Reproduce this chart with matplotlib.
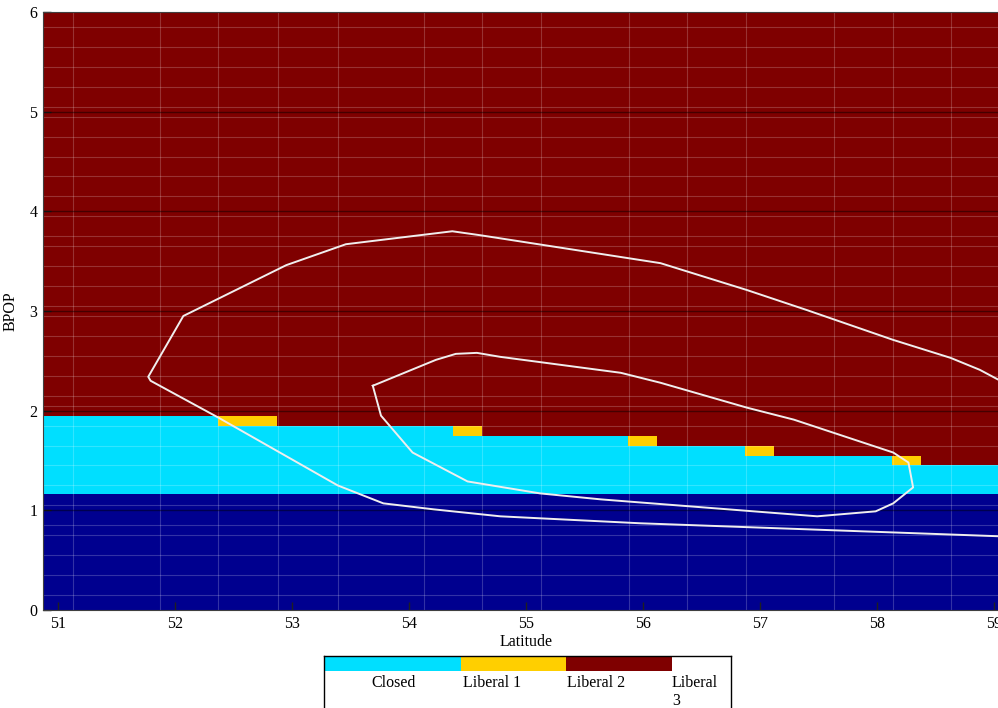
#!/usr/bin/env python3
"""Regime map of BPOP vs latitude with two white contour outlines."""
import numpy as np
import matplotlib
matplotlib.use('Agg')
import matplotlib.pyplot as plt
from matplotlib.colors import ListedColormap

# --- data -------------------------------------------------------------
x_range = [50.87, 59.13]
y_range = [0.0, 6.0]

blue_top = 1.16                        # dark blue band: 0 .. blue_top
step_x = [50.87, 52.37, 54.38, 55.87, 56.87, 58.13, 59.13]
cyan_top = [1.95, 1.85, 1.75, 1.65, 1.55, 1.45]

gold_x0 = [52.37, 54.38, 55.87, 56.87, 58.13]
gold_x1 = [52.87, 54.62, 56.12, 57.12, 58.38]
gold_y0 = [1.85, 1.75, 1.65, 1.55, 1.45]
gold_y1 = [1.95, 1.85, 1.75, 1.65, 1.55]

outer_x = [59.04, 58.88, 58.63, 58.14, 57.40, 56.89, 56.15, 54.61, 54.37,
           53.46, 52.95, 52.07, 51.77, 51.79, 52.37, 53.39, 53.78, 54.21,
           54.78, 55.12, 55.98, 59.04]
outer_y = [2.31, 2.41, 2.53, 2.71, 3.01, 3.21, 3.48, 3.76, 3.80,
           3.67, 3.46, 2.95, 2.34, 2.30, 1.93, 1.25, 1.07, 1.01,
           0.94, 0.92, 0.87, 0.74]

inner_x = [53.69, 54.23, 54.40, 54.58, 54.78, 55.81, 56.15, 56.89, 57.29,
           58.14, 58.27, 58.31, 58.14, 57.99, 57.49, 55.64, 55.12, 54.50,
           54.03, 53.76, 53.69]
inner_y = [2.25, 2.51, 2.57, 2.58, 2.54, 2.38, 2.28, 2.03, 1.91,
           1.58, 1.48, 1.23, 1.07, 0.99, 0.94, 1.11, 1.17, 1.29,
           1.58, 1.95, 2.25]

cell_lines_x = [51.13, 51.87, 52.37, 52.88, 53.39, 54.13, 54.62, 55.13,
                55.88, 56.38, 56.88, 57.63, 58.14, 58.63]
cell_lines_y = [0.15, 0.35, 0.55, 0.75, 0.85, 1.05, 1.25, 1.45, 1.65, 1.85,
                2.05, 2.15, 2.35, 2.55, 2.75, 2.95, 3.05, 3.25, 3.45, 3.65,
                3.75, 3.95, 4.15, 4.35, 4.55, 4.75, 4.95, 5.05, 5.25, 5.45,
                5.65, 5.85]

x_ticks = [51, 52, 53, 54, 55, 56, 57, 58, 59]
y_ticks = [0, 1, 2, 3, 4, 5, 6]

legend_labels = ['Closed', 'Liberal 1', 'Liberal 2', 'Liberal\n3']
legend_colors = ['#00dfff', '#ffcf00', '#7f0000', 'white']

region_colors = ['#00008f', '#00dfff', '#ffcf00', '#7f0000']

plt.rcParams['font.family'] = ['Liberation Serif', 'DejaVu Serif']

W, H = 998, 708
fig = plt.figure(figsize=(W / 100, H / 100), dpi=100)
ax = fig.add_axes([43 / W, (H - 610) / H, (1009 - 43) / W, (610 - 12) / H])

# --- region grid ------------------------------------------------------
xe = np.unique(np.array(step_x + gold_x0 + gold_x1 + x_range))
ye = np.unique(np.array([blue_top] + cyan_top + gold_y0 + gold_y1 + y_range))
xc = (xe[:-1] + xe[1:]) / 2
yc = (ye[:-1] + ye[1:]) / 2
cat = np.full((len(yc), len(xc)), 3)
for j, xv in enumerate(xc):
    seg = np.searchsorted(step_x, xv) - 1
    seg = min(max(seg, 0), len(cyan_top) - 1)
    for i, yv in enumerate(yc):
        if yv < blue_top:
            cat[i, j] = 0
        elif yv < cyan_top[seg]:
            cat[i, j] = 1
        for a, b, c, d in zip(gold_x0, gold_x1, gold_y0, gold_y1):
            if a < xv < b and c < yv < d:
                cat[i, j] = 2

ax.pcolormesh(xe, ye, cat, cmap=ListedColormap(region_colors),
              vmin=-0.5, vmax=3.5, shading='flat')

# faint cell lines
ax.vlines(cell_lines_x, y_range[0], y_range[1], color='white', alpha=0.2, lw=0.8, zorder=2)
ax.hlines(cell_lines_y, x_range[0], x_range[1], color='white', alpha=0.2, lw=0.8, zorder=2)
# darker lines at integer BPOP
ax.hlines(y_ticks[1:-1], x_range[0], x_range[1], color='black', alpha=0.45, lw=1.0, zorder=2)

ax.plot(outer_x, outer_y, color='#f0eeee', lw=1.4, zorder=3)
ax.plot(inner_x, inner_y, color='#f0eeee', lw=1.4, zorder=3)

ax.set_xlim(x_range)
ax.set_ylim(y_range)
ax.set_xticks(x_ticks)
ax.set_yticks(y_ticks)
ax.tick_params(direction='in', length=6, width=1, color='#202020',
               labelsize=11.5, pad=4)
for s in ax.spines.values():
    s.set_color('#404040')
ax.set_xlabel('Latitude', fontsize=11.5, labelpad=2)
ax.set_ylabel('BPOP', fontsize=11.5, labelpad=8)

# --- legend strip below the axes ---------------------------------------
lax = fig.add_axes([324 / W, (H - 656 - 60) / H, (731 - 324) / W, 60 / H])
lax.set_xlim(0, 407)
lax.set_ylim(60, 0)
widths = [137, 105, 106, 59]
lefts = np.cumsum([0] + widths[:-1])
lax.bar(lefts, 15, width=widths, bottom=0, align='edge', color=legend_colors,
        edgecolor='none')
text_x = [47, 139, 243, 348]
for tx, lab in zip(text_x, legend_labels):
    lax.text(tx, 19, lab, ha='left', va='top', fontsize=11.5, linespacing=1.15)
lax.set_xticks([])
lax.set_yticks([])
for s in lax.spines.values():
    s.set_color('black')
    s.set_linewidth(1)

fig.savefig('out.png', dpi=100)
